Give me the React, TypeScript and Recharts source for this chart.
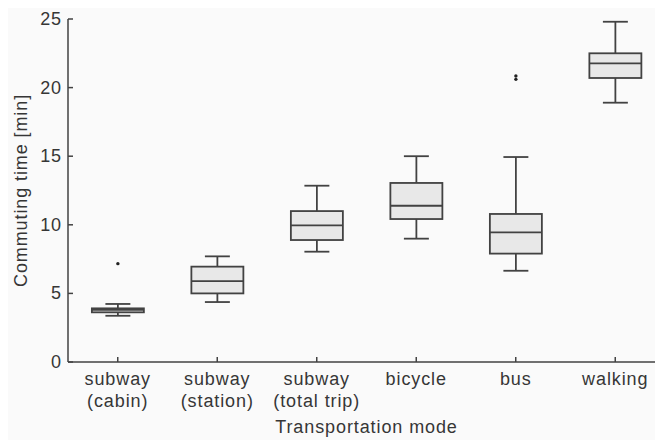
import { ComposedChart, Bar, XAxis, YAxis } from "recharts";

const categories = ["subway (cabin)", "subway (station)", "subway (total trip)", "bicycle", "bus", "walking"];
const tickLines = [["subway", "(cabin)"], ["subway", "(station)"], ["subway", "(total trip)"], ["bicycle"], ["bus"], ["walking"]];
const mins = [3.37, 4.37, 8.04, 8.99, 6.65, 18.9];
const q1s = [3.62, 5.0, 8.89, 10.42, 7.9, 20.7];
const medians = [3.8, 5.9, 9.96, 11.39, 9.45, 21.77];
const q3s = [3.91, 6.95, 11.0, 13.05, 10.79, 22.5];
const maxs = [4.23, 7.7, 12.85, 15.0, 14.94, 24.8];
const outliers = [[7.17], [], [], [], [20.85, 20.6], []];
const yTicks = [0, 5, 10, 15, 20, 25];

const data = categories.map((c, i) => ({
  mode: c, min: mins[i], q1: q1s[i], median: medians[i], q3: q3s[i], max: maxs[i], outliers: outliers[i],
}));

const FONT = "'Liberation Sans', Arial, sans-serif";
const INK = "#363636";
const STROKE = "#424242";

const BoxShape = (props: any) => {
  const { x, y, width, height, payload } = props;
  const k = height / payload.max;
  const base = y + height;
  const py = (v: number) => base - v * k;
  const cx = x + width / 2;
  const cap = width * 0.24;
  return (
    <g stroke={STROKE} strokeWidth={1.8} fill="none">
      <line x1={cx} x2={cx} y1={py(payload.max)} y2={py(payload.q3)} />
      <line x1={cx} x2={cx} y1={py(payload.q1)} y2={py(payload.min)} />
      <line x1={cx - cap} x2={cx + cap} y1={py(payload.max)} y2={py(payload.max)} />
      <line x1={cx - cap} x2={cx + cap} y1={py(payload.min)} y2={py(payload.min)} />
      <rect x={x} y={py(payload.q3)} width={width} height={py(payload.q1) - py(payload.q3)} fill="#e8e8e8" />
      <line x1={x} x2={x + width} y1={py(payload.median)} y2={py(payload.median)} />
      {payload.outliers.map((o: number, i: number) => (
        <circle key={i} cx={cx} cy={py(o)} r={1.7} fill="#222" stroke="none" />
      ))}
    </g>
  );
};

const XTick = (props: any) => {
  const { x, y, index } = props;
  const lines = tickLines[index] || [];
  return (
    <g>
      <line x1={x} x2={x} y1={y} y2={y - 5} stroke={STROKE} strokeWidth={1.5} />
      {lines.map((l, i) => (
        <text key={i} x={x} y={y + 23 + i * 22} textAnchor="middle" fill={INK}
          style={{ fontFamily: FONT, fontSize: 18, letterSpacing: 0.9 }}>{l}</text>
      ))}
    </g>
  );
};

const YTick = (props: any) => {
  const { x, y, payload } = props;
  return (
    <g>
      <line x1={x} x2={x + 5} y1={y} y2={y} stroke={STROKE} strokeWidth={1.5} />
      <text x={x - 6} y={y + 6} textAnchor="end" fill={INK}
        style={{ fontFamily: FONT, fontSize: 18, letterSpacing: 0.9 }}>{payload.value}</text>
    </g>
  );
};

export default function App() {
  return (
    <div style={{ width: 655, height: 432, overflow: "hidden", background: "#fafafa" }}>
      <ComposedChart width={657} height={430} data={data} barCategoryGap="24%"
        margin={{ top: 11, right: 0, bottom: 0, left: 0 }}>
        <XAxis dataKey="mode" type="category" height={76} axisLine={{ stroke: STROKE, strokeWidth: 1.5 }}
          tickLine={false} tickSize={0} tickMargin={0} tick={<XTick />} interval={0}
          label={{ value: "Transportation mode", position: "insideBottom", offset: 5, fill: INK,
            style: { fontFamily: FONT, fontSize: 18, letterSpacing: 0.9 } }} />
        <YAxis type="number" domain={[0, 25]} ticks={yTicks} width={60} axisLine={{ stroke: STROKE, strokeWidth: 1.5 }}
          tickLine={false} tickSize={0} tickMargin={0} tick={<YTick />} interval={0}
          label={{ value: "Commuting time [min]", angle: -90, position: "insideLeft", offset: 13, fill: INK,
            style: { fontFamily: FONT, fontSize: 18, letterSpacing: 0.9, textAnchor: "middle" } }} />
        <Bar dataKey="max" shape={<BoxShape />} isAnimationActive={false} />
      </ComposedChart>
    </div>
  );
}
